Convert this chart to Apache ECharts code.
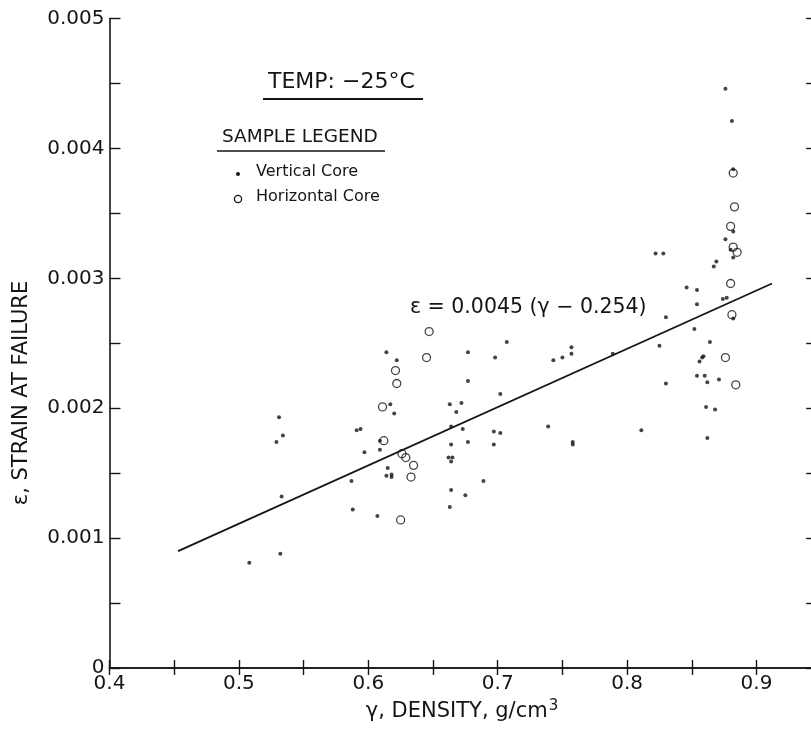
<!DOCTYPE html>
<html><head><meta charset="utf-8">
<script src="https://cdn.jsdelivr.net/npm/echarts@6/dist/echarts.min.js"></script>
<style>html,body{margin:0;padding:0;background:#fff}#c{width:811px;height:735px}</style>
</head><body><div id="c"></div>
<script>
// Vertical core samples: [density g/cm3, strain at failure]
const verticalCore = [
  [0.508,0.00081],[0.532,0.00088],[0.531,0.00193],[0.534,0.00179],[0.529,0.00174],[0.533,0.00132],
  [0.591,0.00183],[0.594,0.00184],[0.587,0.00144],[0.588,0.00122],[0.607,0.00117],[0.597,0.00166],
  [0.609,0.00175],[0.609,0.00168],[0.614,0.00243],[0.622,0.00237],[0.617,0.00203],[0.620,0.00196],
  [0.615,0.00154],[0.614,0.00148],[0.618,0.00149],[0.618,0.00147],
  [0.663,0.00203],[0.672,0.00204],[0.668,0.00197],[0.664,0.00186],[0.673,0.00184],[0.664,0.00172],
  [0.677,0.00174],[0.662,0.00162],[0.665,0.00162],[0.664,0.00159],[0.689,0.00144],[0.664,0.00137],
  [0.675,0.00133],[0.663,0.00124],[0.677,0.00243],[0.677,0.00221],[0.698,0.00239],[0.707,0.00251],
  [0.702,0.00211],[0.697,0.00182],[0.702,0.00181],[0.697,0.00172],
  [0.739,0.00186],[0.743,0.00237],[0.750,0.00239],[0.757,0.00247],[0.757,0.00242],[0.758,0.00174],
  [0.758,0.00172],[0.789,0.00242],[0.811,0.00183],[0.822,0.00319],[0.828,0.00319],[0.830,0.00270],
  [0.825,0.00248],[0.830,0.00219],[0.846,0.00293],[0.854,0.00291],[0.854,0.00280],[0.852,0.00261],
  [0.864,0.00251],[0.858,0.00239],[0.859,0.00240],[0.856,0.00236],[0.854,0.00225],[0.860,0.00225],
  [0.862,0.00220],[0.871,0.00222],[0.861,0.00201],[0.868,0.00199],[0.862,0.00177],[0.869,0.00313],
  [0.867,0.00309],[0.874,0.00284],[0.877,0.00285],[0.876,0.00446],[0.881,0.00421],[0.882,0.00384],
  [0.882,0.00336],[0.876,0.00330],[0.880,0.00322],[0.882,0.00316],[0.882,0.00269]
];
// Horizontal core samples
const horizontalCore = [
  [0.647,0.00259],[0.645,0.00239],[0.621,0.00229],[0.622,0.00219],[0.611,0.00201],[0.612,0.00175],
  [0.626,0.00165],[0.629,0.00162],[0.635,0.00156],[0.633,0.00147],[0.625,0.00114],
  [0.882,0.00381],[0.883,0.00355],[0.880,0.00340],[0.882,0.00324],[0.885,0.00320],[0.880,0.00296],
  [0.881,0.00272],[0.876,0.00239],[0.884,0.00218]
];
// Fitted line endpoints: eps = 0.0045 (gamma - 0.254)
const fitLine = [[0.453,0.00090],[0.912,0.00296]];
const xTickLabels = ['0.4','0.5','0.6','0.7','0.8','0.9'];
const yTickLabels = ['0','0.001','0.002','0.003','0.004','0.005'];

const FONT = 'DejaVu Sans';
const INK = '#151515';
function pick(list){
  return function(v){
    const s = list.find(t => Math.abs(parseFloat(t) - v) < 1e-9);
    return s === undefined ? '' : s;
  };
}
const axLine = {show:true, lineStyle:{color:INK, width:1.6}};
const chart = echarts.init(document.getElementById('c'), null, {renderer:'canvas'});
chart.setOption({
  backgroundColor:'#ffffff',
  animation:false,
  grid:{left:109.5, top:18.5, width:711.7, height:649.5, containLabel:false, outerBoundsMode:'none'},
  xAxis:[
    {type:'value', position:'bottom', min:0.4, max:0.95, interval:0.05,
     axisLine:axLine, splitLine:{show:false},
     axisTick:{show:true, inside:true, length:8, lineStyle:{color:INK, width:1.4}},
     axisLabel:{formatter:pick(xTickLabels), margin:6, fontFamily:FONT, fontSize:20, color:INK}},
    {type:'value', position:'top', min:0.4, max:0.95, interval:0.05,
     axisLine:axLine, splitLine:{show:false},
     axisTick:{show:true, inside:true, length:7, lineStyle:{color:INK, width:1.4}},
     axisLabel:{show:false}}
  ],
  yAxis:[
    {type:'value', position:'left', min:0, max:0.005, interval:0.0005,
     axisLine:axLine, splitLine:{show:false},
     axisTick:{show:true, inside:true, length:11, lineStyle:{color:INK, width:1.4}},
     axisLabel:{formatter:pick(yTickLabels), margin:5, fontFamily:FONT, fontSize:20, color:INK}},
    {type:'value', position:'right', min:0, max:0.005, interval:0.0005,
     axisLine:axLine, splitLine:{show:false},
     axisTick:{show:true, inside:true, length:15, lineStyle:{color:INK, width:1.4}},
     axisLabel:{show:false}}
  ],
  series:[
    {name:'Fit', type:'line', data:fitLine, showSymbol:false, symbol:'none',
     lineStyle:{color:INK, width:1.8}, z:2, silent:true},
    {name:'Vertical Core', type:'scatter', data:verticalCore, symbol:'circle', symbolSize:4,
     itemStyle:{color:INK}, z:3},
    {name:'Horizontal Core', type:'scatter', data:horizontalCore, symbol:'circle', symbolSize:8,
     itemStyle:{color:'rgba(0,0,0,0)', borderColor:INK, borderWidth:1.3}, z:4}
  ],
  graphic:[
    {type:'text', left:268, top:71, style:{text:'TEMP: −25°C', font:'22px "DejaVu Sans"', fill:INK}},
    {type:'line', shape:{x1:263,y1:99,x2:423,y2:99}, style:{stroke:INK, lineWidth:2}},
    {type:'text', left:222, top:128, style:{text:'SAMPLE LEGEND', font:'18.5px "DejaVu Sans"', fill:INK}},
    {type:'line', shape:{x1:217,y1:151,x2:385,y2:151}, style:{stroke:INK, lineWidth:1.6}},
    {type:'circle', shape:{cx:238, cy:174, r:2}, style:{fill:INK}},
    {type:'text', left:256, top:164, style:{text:'Vertical Core', font:'16px "DejaVu Sans"', fill:INK}},
    {type:'circle', shape:{cx:238, cy:199, r:3.6}, style:{fill:'none', stroke:INK, lineWidth:1.3}},
    {type:'text', left:256, top:189, style:{text:'Horizontal Core', font:'16px "DejaVu Sans"', fill:INK}},
    {type:'text', left:410, top:297, style:{text:'ε = 0.0045 (γ − 0.254)', font:'20.5px "DejaVu Sans"', fill:INK}},
    {type:'text', x:22, y:393, rotation:Math.PI/2,
     style:{text:'ε, STRAIN AT FAILURE', font:'21px "DejaVu Sans"', fill:INK, align:'center', verticalAlign:'middle'}},
    {type:'text', x:462, y:712,
     style:{rich:{a:{font:'21px "DejaVu Sans"', fill:INK}, s:{font:'15px "DejaVu Sans"', fill:INK, padding:[0,0,11,1]}},
            text:'{a|γ, DENSITY, g/cm}{s|3}', align:'center', verticalAlign:'middle'}}
  ]
});
</script></body></html>
